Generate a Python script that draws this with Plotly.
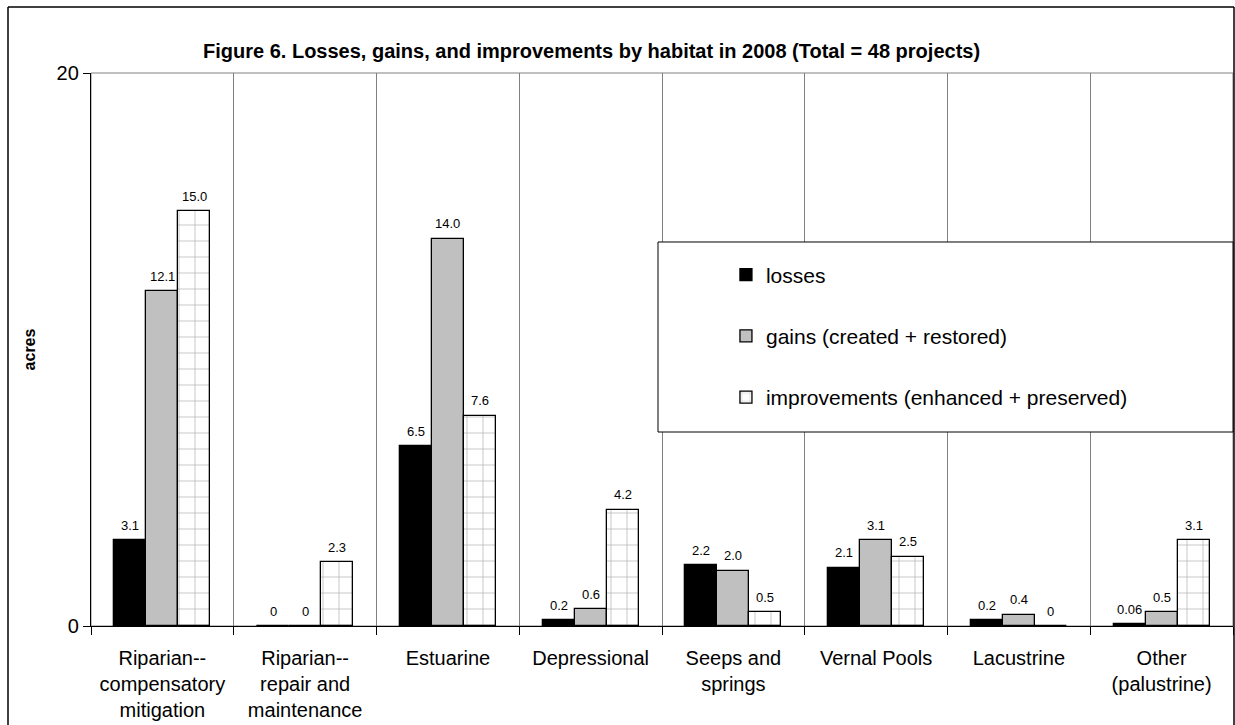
import plotly.graph_objects as go

# Habitat categories (x axis) and acreage per series
categories = [
    "Riparian--<br>compensatory<br>mitigation",
    "Riparian--<br>repair and<br>maintenance",
    "Estuarine",
    "Depressional",
    "Seeps and<br>springs",
    "Vernal Pools",
    "Lacustrine",
    "Other<br>(palustrine)",
]
losses = [3.1, 0, 6.5, 0.2, 2.2, 2.1, 0.2, 0.06]
gains = [12.1, 0, 14.0, 0.6, 2.0, 3.1, 0.4, 0.5]
improvements = [15.0, 2.3, 7.6, 4.2, 0.5, 2.5, 0, 3.1]
y_ticks = [0, 20]

series_names = [
    "losses",
    "gains (created + restored)",
    "improvements (enhanced + preserved)",
]

FONT = "Liberation Sans, Arial, sans-serif"
pos = list(range(len(categories)))
BAR_W = 0.224
offsets = [-1.5 * BAR_W, -0.5 * BAR_W, 0.5 * BAR_W]


def fmt(v):
    if v == 0:
        return "0"
    if v < 0.1:
        return f"{v:.2f}"
    return f"{v:.1f}"


fig = go.Figure()

styles = [
    dict(color="black"),
    dict(color="#C0C0C0"),
    dict(color="white",
         pattern=dict(shape="+", size=16, solidity=0.07,
                      fgcolor="#404040", bgcolor="white")),
]

for i, (name, vals) in enumerate(zip(series_names,
                                     [losses, gains, improvements])):
    mk = dict(styles[i])
    mk["line"] = dict(color="black", width=1.3)
    fig.add_trace(go.Bar(
        x=pos, y=vals, name=name, width=BAR_W, offset=offsets[i],
        marker=mk, legendgroup=f"g{i}",
    ))
    for p, v in zip(pos, vals):
        fig.add_annotation(
            x=p + offsets[i] + BAR_W / 2, y=v, text=fmt(v),
            showarrow=False, yanchor="middle", yshift=15,
            font=dict(family=FONT, size=13, color="black"),
        )

# plot-area frame
fig.add_shape(type="rect", xref="paper", yref="paper", x0=0, x1=1, y0=0, y1=1,
              line=dict(color="#808080", width=1), layer="below")
# outer chart frame, placed in pixels from the plot's left/top edges
frame = dict(color="black", width=1.5)
fig.add_shape(type="line", xref="paper", yref="paper",
              xsizemode="pixel", xanchor=0, x0=-83, x1=-83,
              ysizemode="pixel", yanchor=1, y0=66, y1=-700,
              line=frame, layer="above")
fig.add_shape(type="line", xref="paper", yref="paper",
              xsizemode="pixel", xanchor=0, x0=-83, x1=1143,
              ysizemode="pixel", yanchor=1, y0=66, y1=66,
              line=frame, layer="above")
fig.add_shape(type="line", xref="paper", yref="paper",
              xsizemode="pixel", xanchor=0, x0=1143, x1=1143,
              ysizemode="pixel", yanchor=1, y0=66, y1=-700,
              line=frame, layer="above")
# legend frame
fig.add_shape(type="rect", xref="paper", yref="paper",
              x0=0.4965, x1=1.0, y0=0.3508, y1=0.6944,
              line=dict(color="black", width=1), fillcolor="white",
              layer="above")

fig.update_layout(
    width=1235, height=725,
    margin=dict(l=91, r=2, t=73, b=99),
    paper_bgcolor="white", plot_bgcolor="white",
    bargap=0, barmode="group",
    font=dict(family=FONT, color="black"),
    title=dict(
        text="<b>Figure 6. Losses, gains, and improvements by habitat in 2008 (Total = 48 projects)</b>",
        x=0.479, xanchor="center", xref="container",
        y=1 - 51 / 725, yanchor="middle",
        font=dict(family=FONT, size=20, color="black"),
    ),
    showlegend=True,
    legend=dict(
        x=0.556, xanchor="left", y=0.672, yanchor="top",
        bgcolor="rgba(0,0,0,0)", borderwidth=0,
        font=dict(family=FONT, size=21, color="black"),
        traceorder="grouped", tracegroupgap=31,
    ),
    xaxis=dict(
        range=[-0.5, 7.5], tickmode="array", tickvals=pos, ticktext=categories,
        ticks="", showgrid=False, zeroline=False,
        showline=True, linecolor="black", linewidth=1.3,
        tickfont=dict(family=FONT, size=20, color="black"),
        ticklabelstandoff=14,
        minor=dict(tickmode="array",
                   tickvals=[p - 0.5 for p in pos] + [pos[-1] + 0.5],
                   ticks="outside", ticklen=8, tickcolor="black",
                   tickwidth=1.3, showgrid=True, gridcolor="#808080",
                   gridwidth=1.3),
        fixedrange=True,
    ),
    yaxis=dict(
        range=[0, 20], tickmode="array", tickvals=y_ticks,
        ticks="outside", ticklen=7, tickcolor="black", tickwidth=1.3,
        showline=True, linecolor="black", linewidth=1.3,
        showgrid=True, gridcolor="#808080", gridwidth=1.3, zeroline=False,
        tickfont=dict(family=FONT, size=20, color="black"),
        title=dict(text="<b>acres</b>", standoff=16,
                   font=dict(family=FONT, size=16, color="black")),
        fixedrange=True,
    ),
)

fig.write_html("out.html")
